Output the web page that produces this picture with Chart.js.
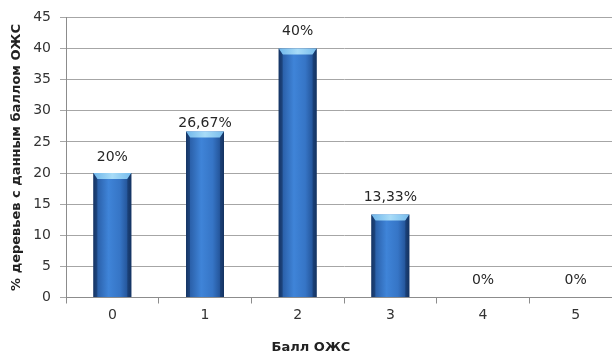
<!DOCTYPE html>
<html>
<head>
<meta charset="utf-8">
<script src="https://cdn.jsdelivr.net/npm/chart.js@4/dist/chart.umd.min.js"></script>
<style>
  html, body { margin: 0; padding: 0; background: #ffffff; overflow: hidden; }
  #wrap { position: absolute; left: 0; top: 0; width: 640px; height: 354px; }
</style>
</head>
<body>
<div id="wrap"><canvas id="chart"></canvas></div>
<script>
// Distribution of trees by crown condition score
const categories = ['0', '1', '2', '3', '4', '5'];
const shares = [20, 26.67, 40, 13.33, 0, 0];
const yTicks = [0, 5, 10, 15, 20, 25, 30, 35, 40, 45];

const labelGap = [16, 8, 17, 17, 17, 17];

function pct(v) {
  return String(v).replace('.', ',') + '%';
}

// Shaded bar bodies with a bevelled light-blue top, then value labels
const barStyle = {
  id: 'barStyle',
  afterDatasetsDraw(chart) {
    const ctx = chart.ctx;
    const meta = chart.getDatasetMeta(0);
    meta.data.forEach((el, i) => {
      const v = shares[i];
      const half = el.width / 2;
      const x0 = el.x - half, x1 = el.x + half;
      const top = el.y, base = el.base;
      ctx.save();
      if (v > 0) {
        const g = ctx.createLinearGradient(x0, 0, x1, 0);
        g.addColorStop(0, '#17396a');
        g.addColorStop(0.1, '#2a5fa8');
        g.addColorStop(0.4, '#3f84d8');
        g.addColorStop(0.7, '#3675c6');
        g.addColorStop(0.9, '#24559a');
        g.addColorStop(1, '#153563');
        ctx.fillStyle = g;
        ctx.fillRect(x0, top, el.width, base - top);
        // bevelled top
        const capH = 6, inset = 4;
        const cg = ctx.createLinearGradient(x0, 0, x1, 0);
        cg.addColorStop(0, '#6fb6ea');
        cg.addColorStop(0.5, '#a8dcf8');
        cg.addColorStop(1, '#76bbec');
        ctx.fillStyle = cg;
        ctx.beginPath();
        ctx.moveTo(x0, top);
        ctx.lineTo(x1, top);
        ctx.lineTo(x1 - inset, top + capH);
        ctx.lineTo(x0 + inset, top + capH);
        ctx.closePath();
        ctx.fill();
        // bevelled sides
        ctx.fillStyle = 'rgba(20,50,95,0.55)';
        ctx.beginPath();
        ctx.moveTo(x0, top);
        ctx.lineTo(x0 + inset, top + capH);
        ctx.lineTo(x0 + inset, base);
        ctx.lineTo(x0, base);
        ctx.closePath();
        ctx.fill();
        ctx.beginPath();
        ctx.moveTo(x1, top);
        ctx.lineTo(x1 - inset, top + capH);
        ctx.lineTo(x1 - inset, base);
        ctx.lineTo(x1, base);
        ctx.closePath();
        ctx.fill();
      }
      ctx.fillStyle = '#262626';
      ctx.font = '14px "DejaVu Sans"';
      ctx.textAlign = 'center';
      ctx.textBaseline = 'middle';
      ctx.fillText(pct(v), el.x, top - labelGap[i]);
      ctx.restore();
    });
  }
};

new Chart(document.getElementById('chart'), {
  type: 'bar',
  data: {
    labels: categories,
    datasets: [{
      data: shares,
      backgroundColor: 'rgba(0,0,0,0)',
      borderWidth: 0,
      barPercentage: 0.41,
      categoryPercentage: 1
    }]
  },
  options: {
    responsive: true,
    maintainAspectRatio: false,
    animation: false,
    devicePixelRatio: 1,
    layout: { padding: { left: 0, top: 16, right: 18, bottom: 0 } },
    plugins: {
      legend: { display: false },
      tooltip: { enabled: false },
      title: {
        display: true,
        position: 'bottom',
        text: 'Балл ОЖС',
        color: '#222222',
        font: { family: '"DejaVu Sans"', size: 13, weight: 'bold', lineHeight: 1 },
        padding: { top: 7, bottom: 0 }
      }
    },
    scales: {
      x: {
        afterFit(s) { s.height = 36.5; },
        grid: {
          display: true,
          drawOnChartArea: false,
          drawTicks: true,
          tickLength: 6,
          color: '#8c8c8c',
          offset: true
        },
        border: { display: true, color: '#8c8c8c' },
        ticks: {
          color: '#333333',
          padding: 3,
          font: { family: '"DejaVu Sans"', size: 14 }
        }
      },
      y: {
        min: 0,
        max: 45,
        afterFit(s) { s.width = 66; },
        afterBuildTicks(s) { s.ticks = yTicks.map(v => ({ value: v })); },
        grid: {
          color: '#a6a6a6',
          tickLength: 6,
          drawTicks: true
        },
        border: { display: true, color: '#8c8c8c' },
        ticks: {
          color: '#333333',
          padding: 9,
          font: { family: '"DejaVu Sans"', size: 14 }
        },
        title: {
          display: true,
          text: '% деревьев с данным баллом ОЖС',
          color: '#222222',
          font: { family: '"DejaVu Sans"', size: 13, weight: 'bold', lineHeight: 1 },
          padding: { top: 10, bottom: 0 }
        }
      }
    }
  },
  plugins: [barStyle]
});
</script>
</body>
</html>
